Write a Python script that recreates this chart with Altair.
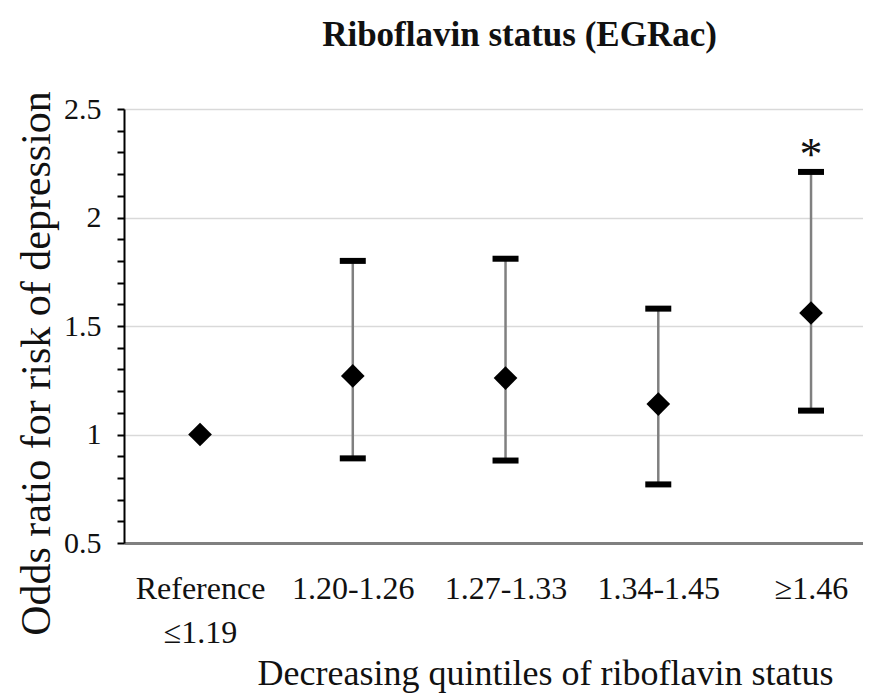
import altair as alt
import pandas as pd

categories = ["Reference\n≤1.19", "1.20-1.26", "1.27-1.33", "1.34-1.45", "≥1.46"]
odds_ratio = [1.00, 1.27, 1.26, 1.14, 1.56]
ci_lower = [None, 0.89, 0.88, 0.77, 1.11]
ci_upper = [None, 1.80, 1.81, 1.58, 2.21]
significance = ["", "", "", "", "*"]

y_ticks = [round(0.5 + 0.1 * i, 1) for i in range(21)]

df = pd.DataFrame({
    "cat": categories,
    "or": odds_ratio,
    "lower": ci_lower,
    "upper": ci_upper,
    "sig": significance,
})

SERIF = "Liberation Serif"
is_major = "abs(datum.value*2 - round(datum.value*2)) < 0.001"

x_scale = alt.Scale(type="point", padding=0.419, align=0.594)

x_enc = alt.X(
    "cat:N",
    sort=categories,
    scale=x_scale,
    axis=alt.Axis(
        title="Decreasing quintiles of riboflavin status",
        titleFont=SERIF,
        titleFontSize=36,
        titleFontWeight="normal",
        titleColor="#111111",
        titleX=421,
        titleY=141,
        titleBaseline="alphabetic",
        titleAlign="center",
        labelExpr="split(datum.label, '\\n')",
        labelFont=SERIF,
        labelFontSize=32,
        labelColor="#111111",
        labelLineHeight=44,
        labelBaseline="top",
        labelAlign="center",
        labelPadding=30,
        labelAngle=0,
        labelOverlap=False,
        labelBound=False,
        ticks=False,
        grid=False,
        domainColor="#808080",
        domainWidth=3,
    ),
)

x_plain = alt.X("cat:N", sort=categories)

y_scale = alt.Scale(domain=[0.5, 2.5], nice=False, zero=False)

base = alt.Chart(df)

points = base.mark_point(shape="diamond", filled=True, size=560, color="black", opacity=1).encode(
    x=x_enc,
    y=alt.Y(
        "or:Q",
        scale=y_scale,
        axis=alt.Axis(
            values=y_ticks,
            tickCount=30,
            labelOverlap=False,
            title="Odds ratio for risk of depression",
            titleFont=SERIF,
            titleFontSize=42,
            titleFontWeight="normal",
            titleColor="#111111",
            titleAngle=270,
            titleX=-88,
            titleY=254,
            titleAlign="center",
            titleBaseline="middle",
            labelExpr=is_major + " ? toString(round(datum.value*10)/10) : ''",
            labelFont=SERIF,
            labelFontSize=30,
            labelColor="#111111",
            labelPadding=16,
            labelBaseline="middle",
            tickSize=7,
            tickWidth=2,
            tickColor="black",
            domainColor="black",
            domainWidth=2,
            grid=True,
            gridColor="#d9d9d9",
            gridWidth=1.5,
            gridOpacity={"condition": {"test": is_major + " && datum.value > 0.6", "value": 1}, "value": 0},
        ),
    ),
)

ci = base.transform_filter("isValid(datum.lower)")

rules = ci.mark_rule(color="#808080", strokeWidth=2.5).encode(
    x=x_plain,
    y="lower:Q",
    y2="upper:Q",
)

caps_low = ci.mark_tick(color="black", size=26, thickness=6, opacity=1).encode(x=x_plain, y="lower:Q")
caps_high = ci.mark_tick(color="black", size=26, thickness=6, opacity=1).encode(x=x_plain, y="upper:Q")

stars = ci.transform_filter("datum.sig != ''").mark_text(
    font=SERIF, fontSize=46, baseline="alphabetic", dy=-2, color="#111111"
).encode(x=x_plain, y="upper:Q", text="sig:N")

chart = (
    alt.layer(rules, caps_low, caps_high, points, stars)
    .properties(
        width=739,
        height=434,
        autosize=alt.AutoSizeParams(type="none"),
        padding={"left": 116, "top": 101, "right": 0, "bottom": 150},
        title=alt.TitleParams(
            text="Riboflavin status (EGRac)",
            font=SERIF,
            fontSize=35,
            fontWeight="bold",
            color="#111111",
            anchor="middle",
            dx=26,
            offset=10,
            baseline="alphabetic",
        ),
    )
    .configure_view(stroke=None)
    .configure(background="white")
)

chart.save("out.html", embed_options={"renderer": "svg", "actions": False})
